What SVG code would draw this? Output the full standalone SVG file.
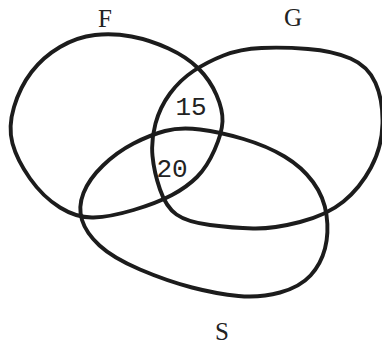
<svg xmlns="http://www.w3.org/2000/svg" width="382" height="348" viewBox="0 0 382 348">
<style>
.set{fill:none;stroke:#1c1c1c;stroke-width:3.9;stroke-linejoin:round}
.lbl{font-family:"Liberation Serif","Times New Roman",serif;font-size:25px;fill:#222;text-anchor:middle}
.num{font-family:"Liberation Mono","Courier New",monospace;font-size:26px;fill:#222;text-anchor:middle}
</style>
<rect width="382" height="348" fill="#ffffff"/>
<g id="set-F">
<path class="set" d="M95,35 Q113,33 131.5,36.5 Q150,40 168.5,48.5 Q187,57 198.5,68.5 Q210,80 216.5,95 Q223,110 222.5,121.5 Q222,133 214.5,150 Q207,167 197,177 Q187,187 172,195 Q157,203 133.5,210 Q110,217 93.5,217.5 Q77,218 60,207.5 Q43,197 30,178.5 Q17,160 12.5,143.5 Q8,127 14,107 Q20,87 31.5,72 Q43,57 60,47 Q77,37 95,35 Z"/>
<text class="lbl" x="105" y="27">F</text>
</g>
<g id="set-G">
<path class="set" d="M223.5,55.5 Q240,49 261.5,48 Q283,47 308,49 Q333,51 350.5,58.5 Q368,66 375.5,83 Q383,100 382.5,123.5 Q382,147 371,167.5 Q360,188 343.5,201.5 Q327,215 300,222 Q273,229 253,228.5 Q233,228 210,225 Q187,222 176.5,214.5 Q166,207 160,189.5 Q154,172 152.5,156 Q151,140 155.5,123.5 Q160,107 170,93.5 Q180,80 193.5,71 Q207,62 223.5,55.5 Z"/>
<text class="lbl" x="293" y="26">G</text>
</g>
<g id="set-S">
<path class="set" d="M165,131 Q180,127 200,129.5 Q220,132 243.5,139 Q267,146 284.5,156.5 Q302,167 313,182 Q324,197 326.5,215 Q329,233 325,248.5 Q321,264 310.5,275.5 Q300,287 280,292.5 Q260,298 238.5,296 Q217,294 192,287.5 Q167,281 140,269.5 Q113,258 99.5,245.5 Q86,233 82,220 Q78,207 83.5,193 Q89,179 103,165.5 Q117,152 133.5,143.5 Q150,135 165,131 Z"/>
<text class="lbl" x="222" y="340">S</text>
</g>
<g id="region-FG">
<text class="num" x="191" y="115">15</text>
</g>
<g id="region-FGS">
<text class="num" x="172" y="177">20</text>
</g>
<g id="connectors"/>
</svg>
